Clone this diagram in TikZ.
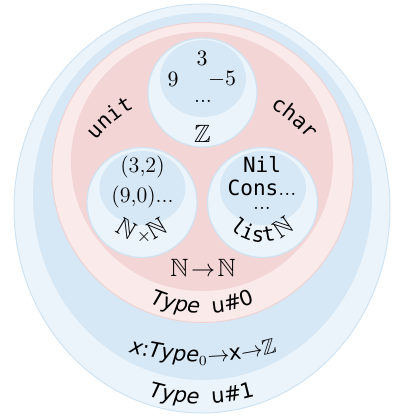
\documentclass[tikz,border=0pt]{standalone}
\usepackage{amssymb}
\usepackage{fontspec}
\setsansfont{DejaVu Sans}
\setmonofont{DejaVu Sans Mono}
\usetikzlibrary{calc}

\definecolor{blueA}{HTML}{EBF4FB}
\definecolor{blueB}{HTML}{D6E8F6}
\definecolor{blueE}{HTML}{CFE3F3}
\definecolor{pinkA}{HTML}{FAEAEA}
\definecolor{pinkB}{HTML}{F3D5D5}
\definecolor{pinkE}{HTML}{F1D2D2}

\newcommand\fsans{\fontsize{10.5}{12.6}\selectfont\sffamily}
\newcommand\fmono{\fontsize{10.5}{12.6}\selectfont\ttfamily}
\newcommand\fbb{\fontsize{12.5}{15}\selectfont}
\newcommand\fnum{\fontsize{11}{13}\selectfont}
\newcommand\lmdots{{\fnum\rmfamily...}}

\makeatletter
\newdimen\arc@w
\newcommand\arc@measure[1]{%
  \setbox0=\hbox{\pgfinterruptpicture#1\endpgfinterruptpicture}\global\arc@w=\wd0 }
% #1 name prefix, #2 cx, #3 cy, #4 radius (px), #5 mid angle, #6 dir, #7 font, #8 list
\newcommand\arctext[8]{%
  \gdef\arc@tot{0}%
  \foreach \ch in {#8}{%
    \arc@measure{#7\ch}%
    \pgfmathsetmacro\arc@t{\arc@tot+\the\arc@w}%
    \xdef\arc@tot{\arc@t}%
  }%
  \gdef\arc@cum{0}%
  \foreach \ch [count=\k] in {#8}{%
    \arc@measure{#7\ch}%
    \pgfmathsetmacro\arc@s{2*(\arc@cum+0.5*\the\arc@w-0.5*\arc@tot)}%
    \pgfmathsetmacro\arc@phi{#5+(#6)*\arc@s/(#4)*57.29578}%
    \pgfmathsetmacro\arc@rot{0-(\arc@phi)-90*(#6)}%
    \node[arcchar,rotate=\arc@rot] (#1-\k) at ($(#2,#3)+(\arc@phi:#4)$) {#7\ch};
    \pgfmathsetmacro\arc@t{\arc@cum+\the\arc@w}%
    \xdef\arc@cum{\arc@t}%
  }%
}
\makeatother

\tikzset{
  arcchar/.style={inner sep=0pt, anchor=base},
  ringA/.style={fill=blueA, draw=blueE, line width=0.5pt},
  ringB/.style={fill=blueB},
  pinkout/.style={fill=pinkA, draw=pinkE, line width=0.5pt},
  pinkin/.style={fill=pinkB},
  cirout/.style={fill=blueA, draw=blueE, line width=0.6pt},
  cirin/.style={fill=blueB},
  num/.style={inner sep=0pt, font=\fnum},
  bb/.style={inner sep=0pt, font=\fbb},
  mono/.style={inner sep=0pt, anchor=base, font=\fmono},
}

\begin{document}
\begin{tikzpicture}[x=0.5pt, y=-0.5pt]
\useasboundingbox (0,0) rectangle (396,417);

% nested universes
\path[ringA] (202,208.5) ellipse [x radius=188, y radius=204.5];
\path[ringB] (202.5,196.5) ellipse [x radius=169.5, y radius=183.5];
\path[pinkout] (202.5,172.5) ellipse [x radius=150.5, y radius=150];
\path[pinkin] (202,161.5) ellipse [x radius=131, y radius=129.5];

% small type circles
\path[cirout] (202.5,92.5) circle [radius=54.5];
\path[cirin] (203,78.5) ellipse [x radius=43, y radius=38.5];
\path[cirout] (142,202.5) circle [radius=55];
\path[cirin] (142.5,188) ellipse [x radius=43, y radius=37];
\path[cirout] (262.5,202.5) circle [radius=55];
\path[cirin] (263,188) ellipse [x radius=43, y radius=37];

% Z
\node[num] (z3) at (202,58) {$3$};
\node[num] (z9) at (173,79) {$9$};
\node[num] (zm5) at (222,79) {$-5$};
\node[num, anchor=base] (zdots) at (203,103) {...};
\node[bb] (zZ) at (202.5,134) {$\mathbb{Z}$};

% N x N
\node[num] (p32) at (142.5,167) {(3,2)};
\node[num] (p90) at (142.5,197) {(9,0)...};
\arctext{nxn}{142}{203}{38}{90}{-1}{\fbb}{$\mathbb{N}$,\hspace{2pt}$\scriptstyle\times$\hspace{2pt},$\mathbb{N}$}

% list N
\node[mono] (nil) at (262,172) {Nil};
\node[mono] (cons) at (262,195) {Cons\lmdots};
\node[mono] (ldots) at (262,209) {\lmdots};
\arctext{lst}{262}{197}{45}{90}{-1}{}{\fmono l,\fmono i,\fmono s,\fmono t,\fbb\hspace{2pt},\fbb$\mathbb{N}$}

% function type
\node[bb] (fun) at (203,268) {$\mathbb{N}\!\to\!\mathbb{N}$};

% unit, char
\arctext{unit}{202}{228}{138}{230}{1}{\fmono}{u,n,i,t}
\arctext{char}{202}{228}{138}{310}{1}{\fmono}{c,h,a,r}

% Type u#0
\arctext{tz}{202.5}{172.5}{141}{90}{-1}{\fsans}{\itshape T,\itshape y,\itshape p,\itshape e,\hspace{0.6em},u,\#,0}

% x : Type0 -> x -> Z
\arctext{pi}{203}{82}{280}{90}{-1}{\fsans}{\itshape x,:,\itshape T,\itshape y,\itshape p,\itshape e,$_0$,$\to$,x,$\to$,$\mathbb{Z}$}

% Type u#1
\arctext{to}{202}{208}{196}{90}{-1}{\fsans}{\itshape T,\itshape y,\itshape p,\itshape e,\hspace{0.6em},u,\#,1}
\end{tikzpicture}
\end{document}
